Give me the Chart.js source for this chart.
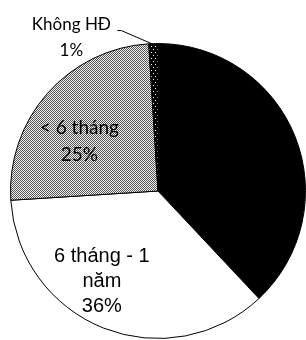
<!DOCTYPE html>
<html>
<head>
<meta charset="utf-8">
<script src="https://cdn.jsdelivr.net/npm/chart.js@4"></script>
<style>
  html, body { margin: 0; padding: 0; background: #fff; overflow: hidden; }
  #wrap { width: 306px; height: 340px; }
</style>
</head>
<body>
<div id="wrap"><canvas id="c" width="306" height="340"></canvas></div>
<script>
// data
const categories = ['> 1 năm', '6 tháng - 1 năm', '< 6 tháng', 'Không HĐ'];
const shares = [38, 36, 25, 1];
// label text lines per slice
const labelLines = [
  ['> 1 năm', '38%'],
  ['6 tháng - 1', 'năm', '36%'],
  ['< 6 tháng', '25%'],
  ['Không HĐ', '1%']
];

function checker() {
  const p = document.createElement('canvas');
  p.width = 2; p.height = 2;
  const g = p.getContext('2d');
  g.fillStyle = '#f2f2f2'; g.fillRect(0, 0, 2, 2);
  g.fillStyle = '#555'; g.fillRect(0, 0, 1, 1); g.fillRect(1, 1, 1, 1);
  return g.createPattern(p, 'repeat');
}
function dots() {
  const p = document.createElement('canvas');
  p.width = 4; p.height = 6;
  const g = p.getContext('2d');
  g.fillStyle = '#000'; g.fillRect(0, 0, 4, 6);
  g.fillStyle = '#fff';
  g.fillRect(1, 1, 1, 1);
  g.fillRect(3, 4, 1, 1);
  return g.createPattern(p, 'repeat');
}

const ctx = document.getElementById('c').getContext('2d');

const labelPlugin = {
  id: 'sliceLabels',
  afterDatasetsDraw(chart) {
    const g = chart.ctx;
    const arcs = chart.getDatasetMeta(0).data;
    g.save();
    g.fillStyle = '#000';
    g.textAlign = 'center';
    g.textBaseline = 'middle';
    arcs.forEach((a, i) => {
      const { x, y, startAngle, endAngle, outerRadius } = a.getProps(['x', 'y', 'startAngle', 'endAngle', 'outerRadius'], true);
      const mid = (startAngle + endAngle) / 2;
      const lines = labelLines[i];
      if (i === 3) {
        // outside label with leader line
        const ex = x + Math.cos(mid) * outerRadius;
        const ey = y + Math.sin(mid) * outerRadius;
        g.strokeStyle = '#000';
        g.lineWidth = 1;
        g.beginPath();
        g.moveTo(ex - 2, ey);
        g.lineTo(ex - 32, ey - 13);
        g.lineTo(ex - 36, ey - 13);
        g.stroke();
        g.font = '17px Lato, "Open Sans", sans-serif';
        g.fillText(lines[0], ex - 82, ey - 19);
        g.fillText(lines[1], ex - 82, ey + 7);
        return;
      }
      let f, ang, lh, font;
      if (i === 1) { f = 0.72; ang = mid + 0.18; lh = 25; font = '20px "Liberation Sans", Arial, sans-serif'; }
      else if (i === 2) { f = 0.63; ang = mid - 0.16; lh = 27; font = '19px Lato, "Open Sans", sans-serif'; }
      else { f = 0.65; ang = mid; lh = 25; font = '20px "Liberation Sans", Arial, sans-serif'; }
      const cx = x + Math.cos(ang) * outerRadius * f;
      const cy = y + Math.sin(ang) * outerRadius * f;
      g.font = font;
      const top = cy - (lines.length - 1) * lh / 2;
      lines.forEach((t, k) => g.fillText(t, cx, top + k * lh));
    });
    g.restore();
  }
};

new Chart(ctx, {
  type: 'pie',
  data: {
    labels: categories,
    datasets: [{
      data: shares,
      backgroundColor: ['#000', '#fff', checker(), dots()],
      borderColor: '#000',
      borderWidth: 1
    }]
  },
  options: {
    responsive: false,
    animation: false,
    layout: { padding: { left: 10, right: 0, top: 43, bottom: 1 } },
    plugins: {
      legend: { display: false },
      tooltip: { enabled: false }
    }
  },
  plugins: [labelPlugin]
});
</script>
</body>
</html>
